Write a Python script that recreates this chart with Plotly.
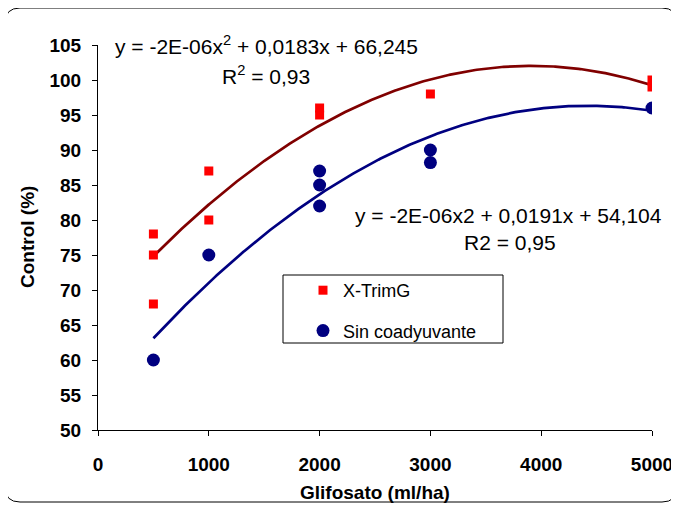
import numpy as np
import plotly.graph_objects as go

# ---- data ----
dose_xtrim = [500, 500, 500, 1000, 1000, 2000, 2000, 3000, 5000, 5000]
ctrl_xtrim = [78, 75, 68, 87, 80, 96, 95, 98, 100, 99]

dose_sin = [500, 1000, 2000, 2000, 2000, 3000, 3000, 5000]
ctrl_sin = [60, 75, 87, 85, 82, 90, 88.2, 96]

# quadratic trend coefficients [a, b, c] (y = a x^2 + b x + c)
coef_xtrim = [-2.34e-06, 0.0183, 66.245]
coef_sin = [-2.16e-06, 0.0191, 54.104]
trend_range = [500, 5000]

x_ticks = [0, 1000, 2000, 3000, 4000, 5000]
y_ticks = list(range(50, 106, 5))

eq_xtrim = "y = -2E-06x<sup>2</sup> + 0,0183x + 66,245"
r2_xtrim = "R<sup>2</sup> = 0,93"
eq_sin = "y = -2E-06x2 + 0,0191x + 54,104"
r2_sin = "R2 = 0,95"

FONT = "Liberation Sans, Arial, sans-serif"

xs = np.linspace(trend_range[0], trend_range[1], 300)
fig = go.Figure()
fig.add_trace(go.Scatter(x=xs, y=np.polyval(coef_xtrim, xs), mode="lines",
                         line=dict(color="#800000", width=2.7), showlegend=False,
                         hoverinfo="skip"))
fig.add_trace(go.Scatter(x=xs, y=np.polyval(coef_sin, xs), mode="lines",
                         line=dict(color="#000080", width=2.7), showlegend=False,
                         hoverinfo="skip"))
fig.add_trace(go.Scatter(x=dose_xtrim, y=ctrl_xtrim, mode="markers", name="X-TrimG",
                         legendgroup="a",
                         marker=dict(symbol="square", size=9, color="#FF0000")))
fig.add_trace(go.Scatter(x=dose_sin, y=ctrl_sin, mode="markers", name="Sin coadyuvante",
                         legendgroup="b",
                         marker=dict(symbol="circle", size=13, color="#000080")))

# window-pixel layout (page body has an 8px margin)
OFF = 8
L, R, T, B = 98, 652, 45, 430
W, H = 679, 505
def px(xp):
    return (xp - L) / (R - L)
def py(yp):
    return (B - yp) / (B - T)

# outer rounded border
x0, x1, y0, y1, r = 5, 677, 8, 502, 15
path = (f"M {px(x0+r)},{py(y0)} L {px(x1-r)},{py(y0)} "
        f"Q {px(x1)},{py(y0)} {px(x1)},{py(y0+r)} L {px(x1)},{py(y1-r)} "
        f"Q {px(x1)},{py(y1)} {px(x1-r)},{py(y1)} L {px(x0+r)},{py(y1)} "
        f"Q {px(x0)},{py(y1)} {px(x0)},{py(y1-r)} L {px(x0)},{py(y0+r)} "
        f"Q {px(x0)},{py(y0)} {px(x0+r)},{py(y0)} Z")
shapes = [dict(type="path", xref="paper", yref="paper", path=path,
               line=dict(color="black", width=1)),
          dict(type="rect", xref="paper", yref="paper",
               x0=px(283), x1=px(503), y0=py(275), y1=py(343),
               line=dict(color="black", width=1), fillcolor="rgba(0,0,0,0)")]

ann_font = dict(family=FONT, size=21, color="black")
annotations = [
    dict(text=eq_xtrim, x=px(266), y=py(45), xref="paper", yref="paper",
         xanchor="center", yanchor="middle", showarrow=False, font=ann_font),
    dict(text=r2_xtrim, x=px(266), y=py(75), xref="paper", yref="paper",
         xanchor="center", yanchor="middle", showarrow=False, font=ann_font),
    dict(text=eq_sin, x=px(508), y=py(215), xref="paper", yref="paper",
         xanchor="center", yanchor="middle", showarrow=False, font=ann_font),
    dict(text=r2_sin, x=px(510), y=py(242), xref="paper", yref="paper",
         xanchor="center", yanchor="middle", showarrow=False, font=ann_font),
    dict(text="Control (%)", x=px(27), y=py(237), xref="paper", yref="paper",
         xanchor="center", yanchor="middle", textangle=-90, showarrow=False,
         font=dict(family=FONT, size=19, color="black", weight="bold")),
    dict(text="Glifosato (ml/ha)", x=px(375), y=py(492), xref="paper", yref="paper",
         xanchor="center", yanchor="middle", showarrow=False,
         font=dict(family=FONT, size=19, color="black", weight="bold")),
]

fig.update_layout(
    width=W - OFF, height=H - OFF,
    margin=dict(l=L - OFF, r=W - R, t=T - OFF, b=H - B, pad=0, autoexpand=False),
    paper_bgcolor="white", plot_bgcolor="white",
    shapes=shapes, annotations=annotations,
    legend=dict(x=px(303), y=py(272), xanchor="left", yanchor="top",
                bgcolor="rgba(0,0,0,0)", borderwidth=0, tracegroupgap=14,
                font=dict(family=FONT, size=18, color="black")),
    xaxis=dict(range=[0, 5000], tickvals=x_ticks, ticks="outside", ticklen=5,
               tickcolor="black", showline=True, linecolor="black", linewidth=1,
               showgrid=False, zeroline=False, ticklabelstandoff=12, automargin=False,
               tickfont=dict(family=FONT, size=19, color="black", weight="bold")),
    yaxis=dict(range=[50, 105], tickvals=y_ticks, ticks="outside", ticklen=5,
               tickcolor="black", showline=True, linecolor="black", linewidth=1,
               showgrid=False, zeroline=False, ticklabelstandoff=7, automargin=False,
               tickfont=dict(family=FONT, size=19, color="black", weight="bold")),
)

fig.write_html("out.html")
